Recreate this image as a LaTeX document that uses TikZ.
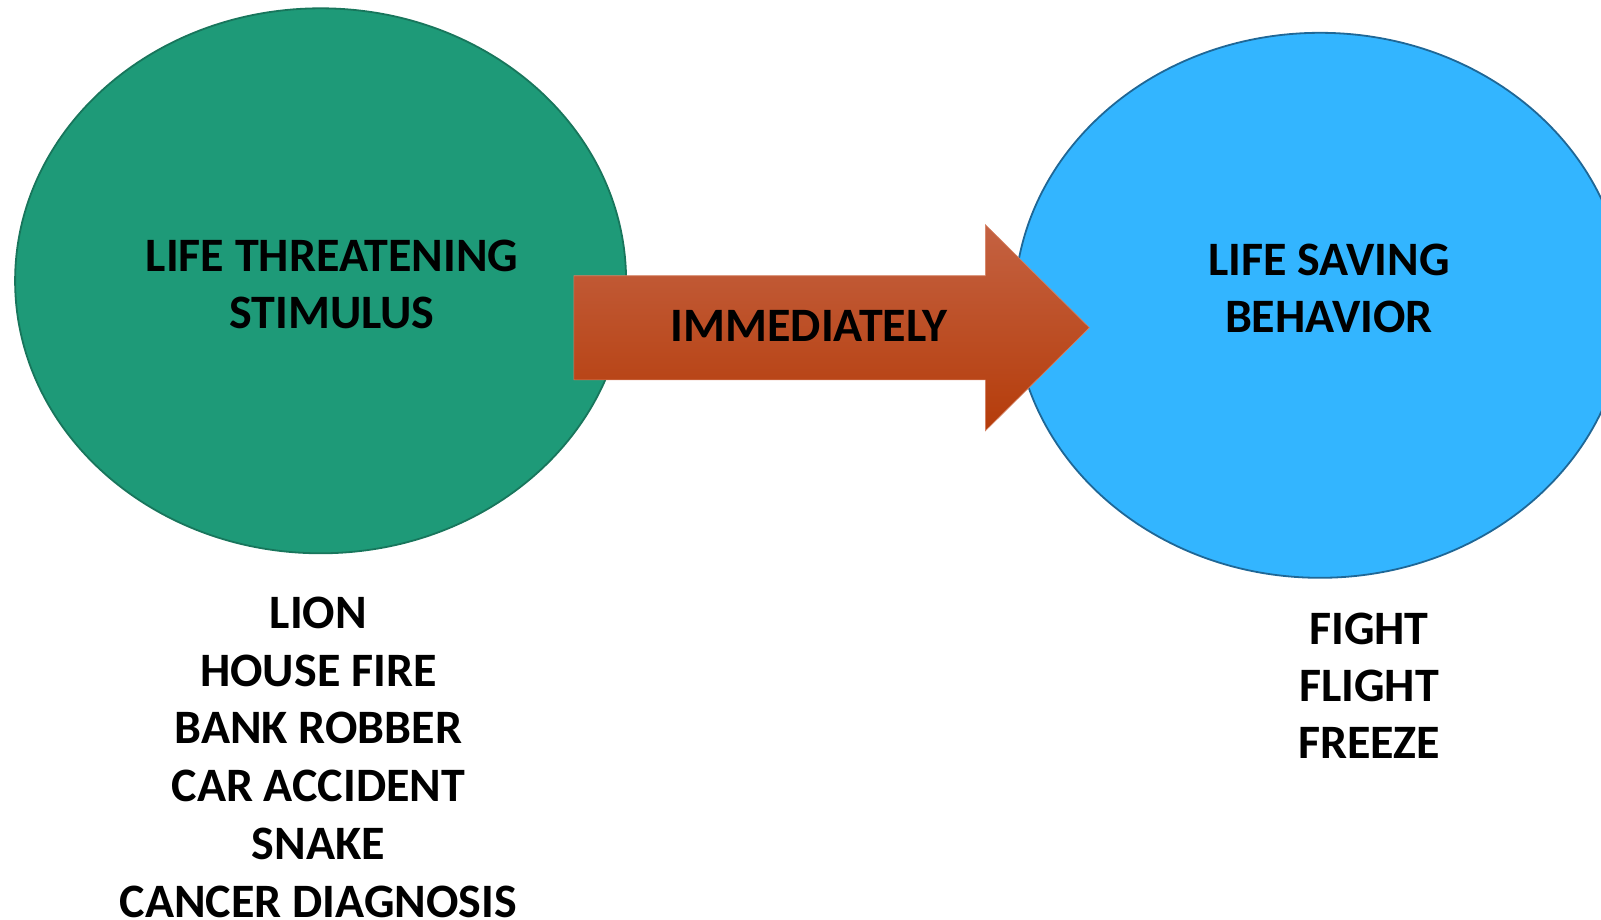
\documentclass[tikz,border=0pt]{standalone}
\usepackage{fontspec}
\setmainfont{Carlito}
\usetikzlibrary{shapes.geometric}
\definecolor{threatfill}{RGB}{30,154,120}
\definecolor{threatline}{RGB}{24,118,92}
\definecolor{savefill}{RGB}{51,181,255}
\definecolor{saveline}{RGB}{31,103,150}
\definecolor{arrowtop}{RGB}{196,98,66}
\definecolor{arrowbot}{RGB}{181,60,10}
\definecolor{arrowedge}{RGB}{214,130,100}
\begin{document}
\begin{tikzpicture}[x=1pt,y=-1pt,
  blob/.style={ellipse, inner sep=0pt, minimum width=611pt, minimum height=545pt, line width=1.8pt},
  caption/.style={font=\fontsize{48}{58}\selectfont\bfseries, anchor=base, inner sep=0pt, text=black},
]
\useasboundingbox (0,0) rectangle (1601,919);

% the two ovals: stimulus and response
\node[blob, fill=threatfill, draw=threatline] (threat) at (320.6,280.8) {};
\node[blob, fill=savefill, draw=saveline] (save) at (1320,305.3) {};

% block arrow between them
\coordinate (s1) at (573.8,275.7);
\coordinate (s2) at (985.3,275.7);
\coordinate (h1) at (985.3,224.6);
\coordinate (tip) at (1089.4,327.7);
\coordinate (h2) at (985.3,430.9);
\coordinate (s3) at (985.3,379.8);
\coordinate (s4) at (573.8,379.8);
\shadedraw[top color=arrowtop, bottom color=arrowbot, draw=arrowedge, line width=0.6pt]
  (s1) -- (s2) -- (h1) -- (tip) -- (h2) -- (s3) -- (s4) -- cycle;

% headings
\node[caption] (t1) at (332,271.6) {LIFE THREATENING};
\node[caption] (t2) at (332,328.8) {STIMULUS};
\node[caption] (imm) at (809,341.5) {IMMEDIATELY};
\node[caption] (r1) at (1329,275) {LIFE SAVING};
\node[caption] (r2) at (1329,332) {BEHAVIOR};

% examples of threats
\node[caption] (l1) at (318.4,628.5) {LION};
\node[caption] (l2) at (318.4,686.2) {HOUSE FIRE};
\node[caption] (l3) at (318.4,743.9) {BANK ROBBER};
\node[caption] (l4) at (318.4,801.6) {CAR ACCIDENT};
\node[caption] (l5) at (318.4,859.3) {SNAKE};
\node[caption] (l6) at (318.4,917) {CANCER DIAGNOSIS};

% responses
\node[caption] (b1) at (1369,644) {FIGHT};
\node[caption] (b2) at (1369,701) {FLIGHT};
\node[caption] (b3) at (1369,758.3) {FREEZE};
\end{tikzpicture}
\end{document}
